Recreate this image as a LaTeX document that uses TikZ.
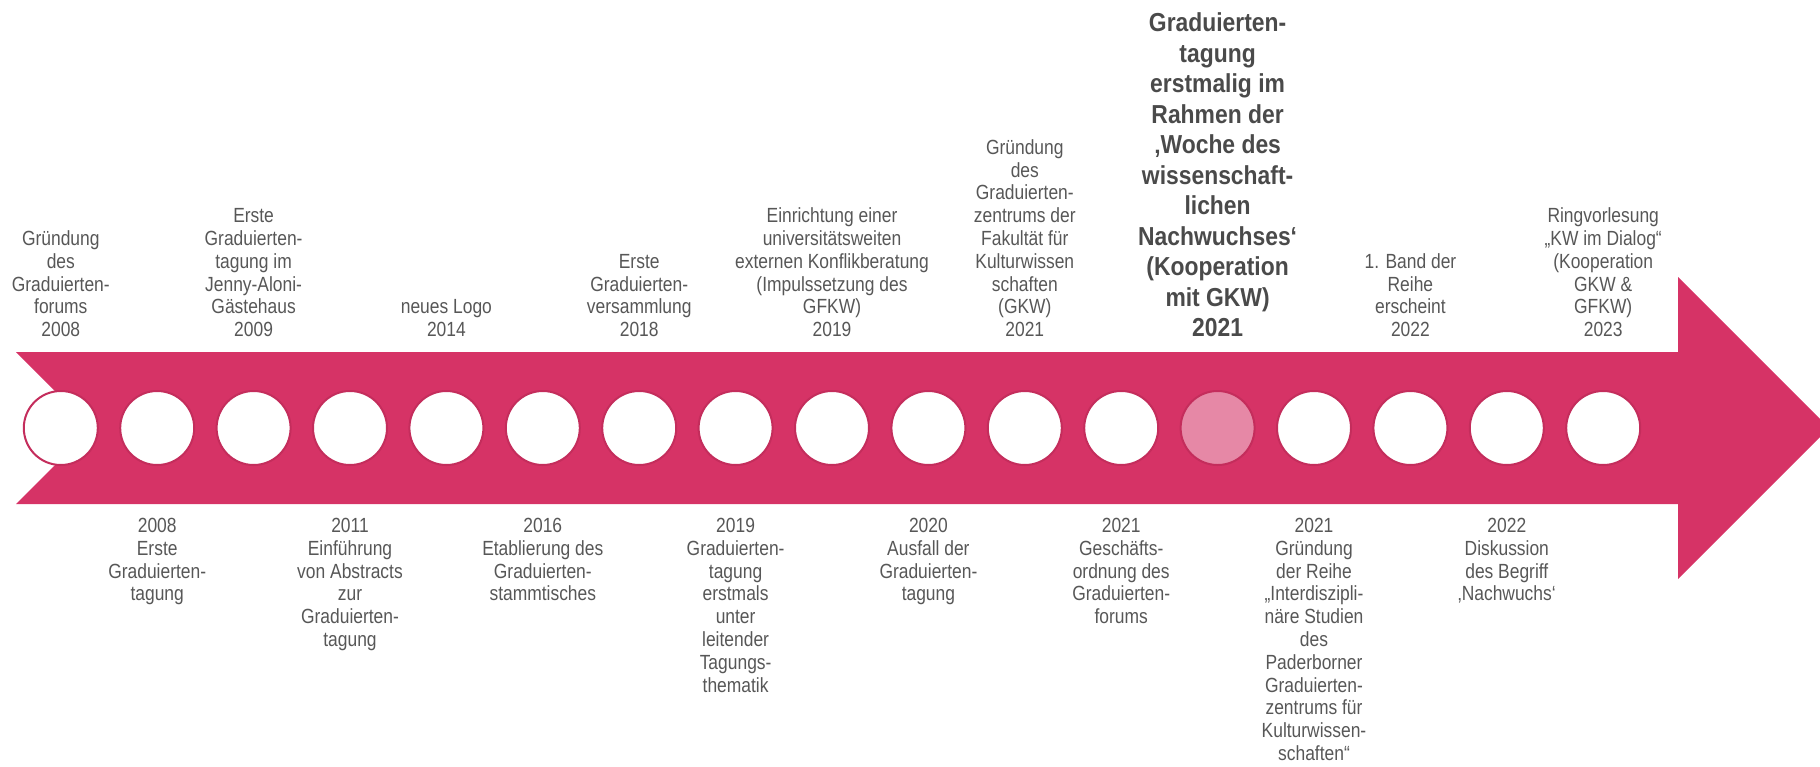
\documentclass[tikz,border=0pt]{standalone}
\usepackage{fontspec}
\setmainfont{Liberation Sans}[FakeStretch=0.85]
\newfontfamily\boldnarrow{Liberation Sans}[FakeStretch=0.88]
\definecolor{arrowpink}{HTML}{D63366}
\definecolor{circborder}{HTML}{C42D5C}
\definecolor{highlight}{HTML}{E688A6}
\definecolor{labelgray}{HTML}{575757}
\definecolor{boldgray}{HTML}{4A4A4A}
\begin{document}
\begin{tikzpicture}[x=1pt,y=-1pt,
  lbl/.style={align=center, inner sep=0pt, text=labelgray,
    font=\fontsize{20.5}{22.8}\selectfont},
  toplbl/.style={lbl, anchor=south},
  botlbl/.style={lbl, anchor=north},
  boldlbl/.style={align=center, inner sep=0pt, text=boldgray, anchor=south,
    font=\boldnarrow\bfseries\fontsize{26}{30.5}\selectfont},
  circ/.style={circle, minimum size=74pt, inner sep=0pt, draw=circborder,
    line width=2pt, fill=white},
  hlcirc/.style={circ, fill=highlight}]
\useasboundingbox (0,0) rectangle (1820,766);
% arrow body
\fill[arrowpink] (16,352) -- (1678,352) -- (1678,277) -- (1829,428)
  -- (1678,579) -- (1678,504) -- (16,504) -- (92,428) -- cycle;
% circles
\foreach \i in {1,...,17}{
  \ifnum\i=13
    \node[hlcirc] (c\i) at ({60.8+96.4*(\i-1)},428) {};
  \else
    \node[circ] (c\i) at ({60.8+96.4*(\i-1)},428) {};
  \fi
}
% top labels
\path (c1.center) ++(0,-91) node[toplbl] (t1) {Gründung\\des\\Graduierten-\\forums\\2008};
\path (c3.center) ++(0,-91) node[toplbl] (t3) {Erste\\Graduierten-\\tagung im\\Jenny-Aloni-\\Gästehaus\\2009};
\path (c5.center) ++(0,-91) node[toplbl] (t5) {neues Logo\\2014};
\path (c7.center) ++(0,-91) node[toplbl] (t7) {Erste\\Graduierten-\\versammlung\\2018};
\path (c9.center) ++(0,-91) node[toplbl] (t9) {Einrichtung einer\\universitätsweiten\\externen Konflikberatung\\(Impulssetzung des\\GFKW)\\2019};
\path (c11.center) ++(0,-91) node[toplbl] (t11) {Gründung\\des\\Graduierten-\\zentrums der\\Fakultät für\\Kulturwissen\\schaften\\(GKW)\\2021};
\path (c13.center) ++(0,-91) node[boldlbl] (t13) {Graduierten-\\tagung\\erstmalig im\\Rahmen der\\‚Woche des\\wissenschaft-\\lichen\\Nachwuchses‘\\(Kooperation\\mit GKW)\\2021};
\path (c15.center) ++(0,-91) node[toplbl] (t15) {1. Band der\\Reihe\\erscheint\\2022};
\path (c17.center) ++(0,-91) node[toplbl] (t17) {Ringvorlesung\\„KW im Dialog“\\(Kooperation\\GKW \&\\GFKW)\\2023};
% bottom labels
\path (c2.center) ++(0,90) node[botlbl] (b2) {2008\\Erste\\Graduierten-\\tagung};
\path (c4.center) ++(0,90) node[botlbl] (b4) {2011\\Einführung\\von Abstracts\\zur\\Graduierten-\\tagung};
\path (c6.center) ++(0,90) node[botlbl] (b6) {2016\\Etablierung des\\Graduierten-\\stammtisches};
\path (c8.center) ++(0,90) node[botlbl] (b8) {2019\\Graduierten-\\tagung\\erstmals\\unter\\leitender\\Tagungs-\\thematik};
\path (c10.center) ++(0,90) node[botlbl] (b10) {2020\\Ausfall der\\Graduierten-\\tagung};
\path (c12.center) ++(0,90) node[botlbl] (b12) {2021\\Geschäfts-\\ordnung des\\Graduierten-\\forums};
\path (c14.center) ++(0,90) node[botlbl] (b14) {2021\\Gründung\\der Reihe\\„Interdiszipli-\\näre Studien\\des\\Paderborner\\Graduierten-\\zentrums für\\Kulturwissen-\\schaften“};
\path (c16.center) ++(0,90) node[botlbl] (b16) {2022\\Diskussion\\des Begriff\\‚Nachwuchs‘};
\end{tikzpicture}
\end{document}
